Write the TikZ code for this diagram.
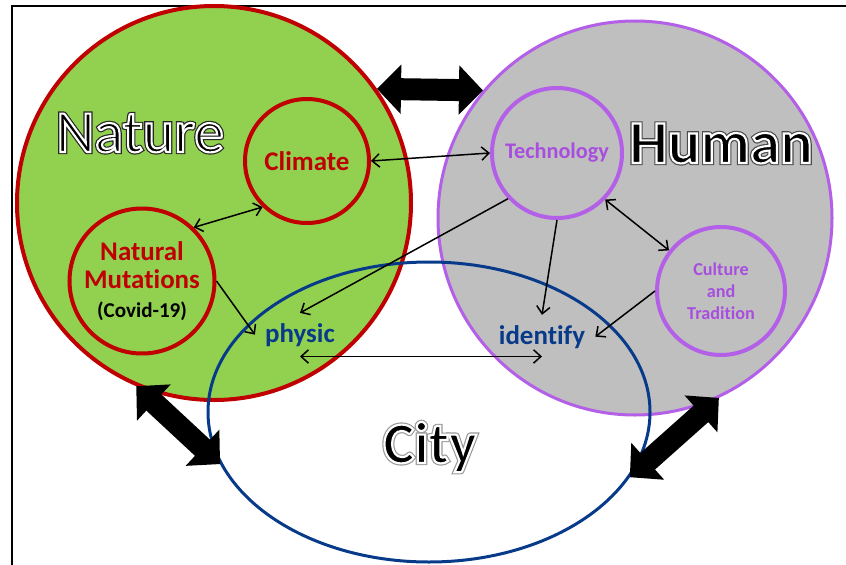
\documentclass[tikz,border=0pt]{standalone}
\usepackage{fontspec}
\setmainfont{Carlito}[Ligatures=NoCommon]
\usetikzlibrary{arrows.meta,shapes.geometric}

\definecolor{leafgreen}{RGB}{146,208,80}
\definecolor{ringred}{RGB}{192,0,0}
\definecolor{stonegrey}{RGB}{191,191,191}
\definecolor{lilac}{RGB}{180,95,232}
\definecolor{lilactext}{RGB}{168,78,222}
\definecolor{cityblue}{RGB}{8,58,138}

\tikzset{
  bigring/.style={circle, line width=1.2mm, minimum size=118.2mm, inner sep=0pt},
  smallring/.style={circle, line width=1.2mm, inner sep=0pt},
  tag/.style={text=cityblue, font=\bfseries\fontsize{23}{26}\selectfont, inner sep=3mm, anchor=base},
  bigword/.style={anchor=base, font=\bfseries\fontsize{52}{58}\selectfont},
  thinarrow/.style={line width=0.45mm, {Straight Barb[length=2.2mm,width=4mm]}-{Straight Barb[length=2.2mm,width=4mm]}},
  onearrow/.style={line width=0.45mm, -{Straight Barb[length=2.2mm,width=4mm]}},
  fatarrow/.style={line width=6.6mm, {Triangle[length=7.2mm,width=14.4mm]}-{Triangle[length=7.2mm,width=14.4mm]}},
}

% filled letters with a light rim and a dark edge (#1 edge, #2 rim, as pdf rgb)
\newcommand\rimmed[3]{%
  \rlap{\special{pdf:literal direct 1 Tr 3.8 w #1 RG}#3}%
  \special{pdf:literal direct 2 Tr 1.8 w #2 RG}#3\special{pdf:literal direct 0 Tr}}

\begin{document}
\begin{tikzpicture}[x=0.3mm, y=-0.3mm]
\useasboundingbox (0,0) rectangle (846,565);
% frame
\draw[line width=0.6mm] (12,565) -- (12,6) -- (846,6);

% the two worlds
\node[bigring, draw=ringred, fill=leafgreen] (nature) at (214,203) {};
\node[bigring, draw=lilac, fill=stonegrey, line width=0.9mm] (human) at (635,218) {};

% inside nature
\node[smallring, draw=ringred, text=ringred, minimum size=37.2mm,
      font=\bfseries\fontsize{23}{26}\selectfont] (climate) at (307,161) {Climate};
\node[smallring, draw=ringred, text=ringred, minimum size=43.5mm, align=center,
      font=\bfseries\fontsize{23}{24}\selectfont] (mutations) at (142,281)
      {Natural\\Mutations\\[1pt]{\color{black}\fontsize{18}{20}\selectfont(Covid-19)}};

% inside human
\node[smallring, draw=lilac, text=lilactext, minimum size=39mm,
      font=\bfseries\fontsize{19}{22}\selectfont] (tech) at (557,153) {Technology};
\node[smallring, draw=lilac, text=lilactext, minimum size=38.4mm, align=center,
      font=\bfseries\fontsize{15.5}{19}\selectfont] (culture) at (721,291) {Culture\\and\\Tradition};

% the city on top
\node[ellipse, draw=cityblue, line width=0.9mm, minimum width=132.6mm, minimum height=90mm] (city) at (429,412) {};
\node[tag] (physic) at (300,342) {physic};
\node[tag] (identify) at (542,344) {identify};

\node[bigword, font=\fontsize{51}{56}\selectfont] (naturelabel) at (140,152) {\rimmed{0.15 0.15 0.15}{1 1 1}{Nature}};
\node[bigword] (humanlabel) at (721,163) {\rimmed{0.3 0.3 0.3}{1 1 1}{Human}};
\node[bigword, font=\bfseries\fontsize{50}{56}\selectfont] (citylabel) at (430,463) {\rimmed{0.6 0.6 0.6}{1 1 1}{City}};

% links
\draw[thinarrow] (climate.east) -- (tech.west);
\draw[thinarrow] (mutations.46) -- (climate.226);
\draw[onearrow] (mutations.east) -- (physic.west);
\draw[onearrow] (tech.223) -- (physic.north);
\draw[onearrow] (tech.south) -- (identify.north);
\draw[thinarrow] (tech.316) -- (culture.142);
\draw[onearrow] (culture.west) -- (identify.east);
\draw[thinarrow] (physic.south) -- (physic.south -| identify.south);

% big exchanges
\draw[fatarrow] (nature.35) -- (human.140);
\draw[fatarrow] (nature.247) -- (city.194);
\draw[fatarrow] (human.295) -- (city.342);
\end{tikzpicture}
\end{document}
